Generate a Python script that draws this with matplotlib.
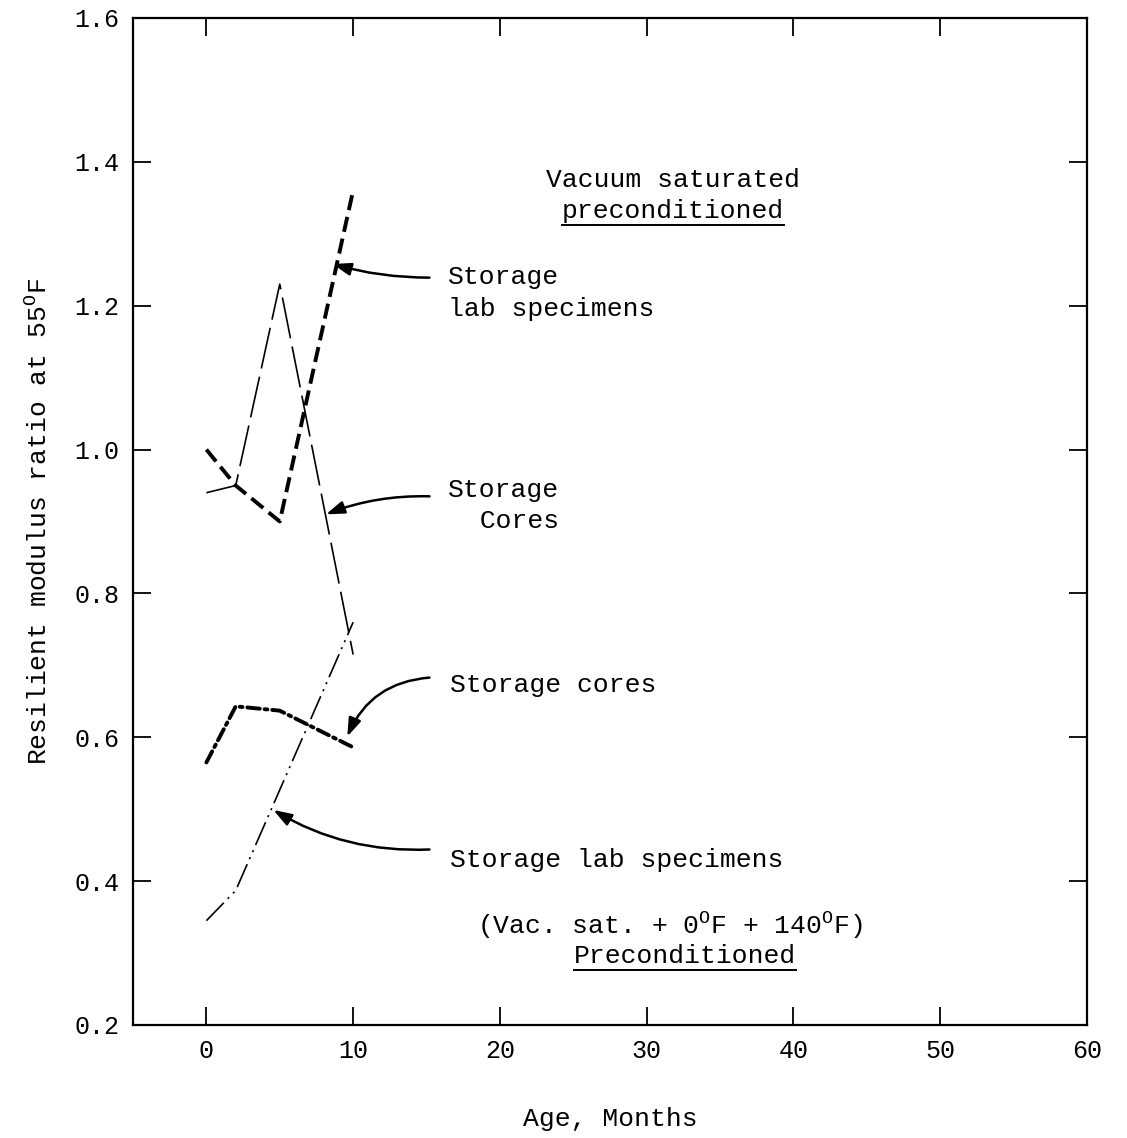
import matplotlib
matplotlib.use('Agg')
import matplotlib.pyplot as plt
from matplotlib.lines import Line2D

# Data (age in months, resilient modulus ratio)
vac_lab_age = [0, 2, 5, 10]
vac_lab_ratio = [1.00, 0.95, 0.90, 1.36]

vac_core_age = [0, 2, 5, 10]
vac_core_ratio = [0.94, 0.95, 1.23, 0.715]

pre_core_age = [0, 2, 5, 10]
pre_core_ratio = [0.565, 0.643, 0.637, 0.586]

pre_lab_age = [0, 2, 10]
pre_lab_ratio = [0.345, 0.387, 0.76]

x_ticks = [0, 10, 20, 30, 40, 50, 60]
y_ticks = [0.2, 0.4, 0.6, 0.8, 1.0, 1.2, 1.4, 1.6]

FONT = 'Liberation Mono'
plt.rcParams['font.family'] = FONT
plt.rcParams['mathtext.fontset'] = 'custom'
plt.rcParams['mathtext.rm'] = FONT
plt.rcParams['mathtext.it'] = FONT
plt.rcParams['lines.scale_dashes'] = False

fig = plt.figure(figsize=(11.27, 11.38), dpi=100)
ax = fig.add_axes([0.118, 0.0993, 0.8465, 0.8849])

ax.plot(vac_lab_age, vac_lab_ratio, color='black', lw=2.8,
        linestyle=(0, (11, 5)))
ax.plot(vac_core_age, vac_core_ratio, color='black', lw=1.2,
        linestyle=(0, (30, 6)))
ax.plot(pre_core_age, pre_core_ratio, color='black', lw=2.8,
        linestyle=(0, (9, 3.5, 2, 3.5)), solid_capstyle='round',
        dash_capstyle='round')
ax.plot(pre_lab_age, pre_lab_ratio, color='black', lw=1.2,
        linestyle=(0, (18, 4, 1.5, 4, 1.5, 4)))

ax.set_xlim(-5, 60)
ax.set_ylim(0.2, 1.6)
ax.set_xticks(x_ticks)
ax.set_yticks(y_ticks)
ax.set_xticklabels([str(t) for t in x_ticks])
ax.set_yticklabels([f'{t:.1f}' for t in y_ticks])
ax.tick_params(direction='in', length=13, width=1.3, top=True, right=True,
               labelsize=18, pad=10)
for s in ax.spines.values():
    s.set_linewidth(1.6)

ax.set_xlabel('Age, Months', fontsize=19, labelpad=32)
ax.set_ylabel(r'Resilient modulus ratio at 55$^{\mathrm{O}}$F', fontsize=19,
              labelpad=16)

# Annotations
txt_kw = dict(fontsize=19, va='center')
ax.text(16.45, 1.240, 'Storage', ha='left', **txt_kw)
ax.text(16.45, 1.196, 'lab specimens', ha='left', **txt_kw)
ax.text(16.45, 0.944, 'Storage', ha='left', **txt_kw)
ax.text(16.45, 0.900, '  Cores', ha='left', **txt_kw)
ax.text(16.6, 0.672, 'Storage cores', ha='left', **txt_kw)
ax.text(16.6, 0.429, 'Storage lab specimens', ha='left', **txt_kw)

ax.text(31.8, 1.375, 'Vacuum saturated', ha='center', **txt_kw)
t1 = ax.text(31.8, 1.331, 'preconditioned', ha='center', **txt_kw)
ax.text(31.6, 0.338, r'(Vac. sat. + 0$^{\mathrm{O}}$F + 140$^{\mathrm{O}}$F)',
        ha='center', **txt_kw)
t2 = ax.text(32.6, 0.296, 'Preconditioned', ha='center', **txt_kw)

arrow_kw = dict(arrowstyle='-|>,head_length=1.1,head_width=0.38',
                color='black', lw=1.8, shrinkA=0, shrinkB=0)
ax.annotate('', xy=(8.6, 1.258), xytext=(15.2, 1.239),
            arrowprops=dict(connectionstyle='arc3,rad=-0.07', **arrow_kw))
ax.annotate('', xy=(8.15, 0.910), xytext=(15.2, 0.935),
            arrowprops=dict(connectionstyle='arc3,rad=0.1', **arrow_kw))
ax.annotate('', xy=(9.6, 0.601), xytext=(15.2, 0.683),
            arrowprops=dict(connectionstyle='arc3,rad=0.3', **arrow_kw))
ax.annotate('', xy=(4.56, 0.499), xytext=(15.2, 0.444),
            arrowprops=dict(connectionstyle='arc3,rad=-0.15', **arrow_kw))

# underline the two headings
fig.canvas.draw()
renderer = fig.canvas.get_renderer()
for t in (t1, t2):
    bb = t.get_window_extent(renderer)
    y0 = bb.y0 - 2
    fig.add_artist(Line2D([bb.x0, bb.x1], [y0, y0], color='black', lw=1.4,
                          transform=None))

fig.savefig('out.png', dpi=100)
